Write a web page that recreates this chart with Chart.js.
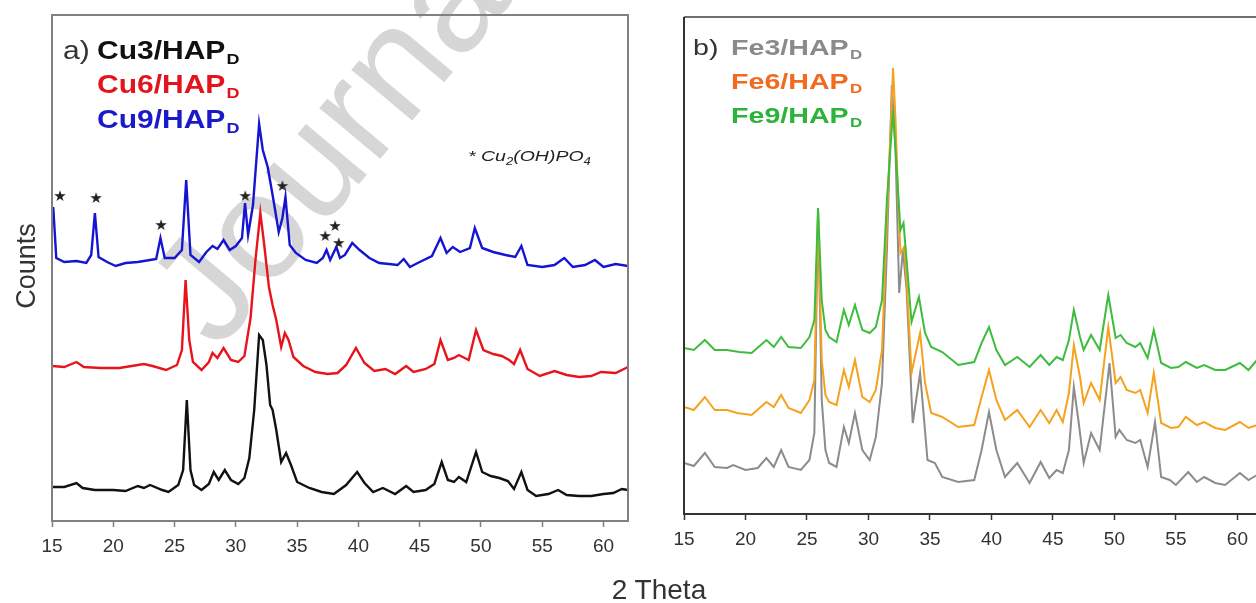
<!DOCTYPE html>
<html>
<head>
<meta charset="utf-8">
<script src="https://cdn.jsdelivr.net/npm/chart.js@4.4.1/dist/chart.umd.min.js"></script>
<style>
  html, body { margin: 0; padding: 0; background: #fff; overflow: hidden; width: 1256px; height: 603px; }
  #chartA { position: absolute; left: 0; top: 0; }
  #chartB { position: absolute; left: 640px; top: 0; }
  #xTitle { position: absolute; left: 559px; top: 576px; width: 200px; text-align: center;
            font: 28px 'Liberation Sans', Arial, sans-serif; line-height: 28px; color: #333; }
</style>
</head>
<body>
<canvas id="chartA" width="640" height="603"></canvas>
<canvas id="chartB" width="640" height="603"></canvas>
<div id="xTitle">2 Theta</div>
<script>
const FONT = "'Liberation Sans', Arial, sans-serif";

// panel a) Cu samples, 2 theta (deg) and counts (arbitrary, offset stacked)
const cu3Theta = [15,16,17,17.5,18.5,20,21,22,22.5,23,24,24.5,25.3,25.7,26,26.3,26.6,27.2,27.8,28.2,28.6,29.1,29.6,30.2,30.7,31.1,31.5,31.9,32.2,32.5,32.8,33,33.3,33.7,34.1,34.5,35,36,37,38,39,39.9,40.5,41.2,42,43,43.9,44.5,45.5,46.2,46.8,47.3,47.8,48.2,48.8,49.6,50.1,50.8,51.5,52.2,52.7,53.3,53.8,54.5,55.5,56.3,57,58,59,60,60.8,61.5,62];
const cu3Counts = [34,34,38,33,31,31,30,35,33,36,31,29,36,51,121,51,36,31,37,49,41,51,41,37,43,63,111,186,181,156,116,111,91,59,68,56,39,33,29,27,36,49,38,29,33,27,35,29,31,37,59,41,39,44,39,69,49,45,43,40,32,49,31,25,27,31,26,25,25,27,28,32,31];

const cu6Theta = [15,16,17,17.6,19,20.5,21.5,22.5,23.2,24.3,25.2,25.6,25.9,26.2,26.5,27.2,27.8,28.1,28.5,29,29.6,30.2,30.7,31.2,31.6,32,32.3,32.7,33,33.3,33.7,34,34.3,34.7,35.5,36.5,37.5,38.3,39,39.8,40.5,41.3,42.2,43,43.9,44.5,45.5,46.2,46.7,47.3,47.8,48.2,49,49.6,50.2,51,51.7,52.3,52.7,53.2,53.8,54.8,56,57,58,59,59.8,61,62];
const cu6Counts = [155,154,159,154,153,153,155,157,155,151,156,171,241,181,159,151,159,168,163,173,161,159,165,203,261,308,278,234,216,201,174,188,181,164,155,149,147,148,156,173,158,150,152,147,155,149,152,157,181,161,163,166,161,191,171,167,165,161,157,171,152,145,150,146,144,145,149,148,154];

const cu9Theta = [15,15.1,15.35,16,17,17.8,18.2,18.5,18.8,19.5,20.2,21,22,23,23.5,23.85,24.2,25,25.6,25.95,26.3,27,27.6,28.1,28.5,29,29.5,30,30.5,30.75,31,31.4,31.9,32.2,32.6,33,33.5,33.8,34.05,34.4,34.9,35.7,36.6,37.1,37.4,37.7,38.2,38.5,38.9,39.5,40.1,40.9,41.7,42.5,43.2,43.7,44.2,45,46,46.7,47.2,47.7,48.3,49.1,49.5,50.1,51,52,52.8,53.3,53.8,55,56,56.8,57.5,58.5,59.3,60,61,62];
const cu9Counts = [300,314,263,259,260,258,266,308,264,259,255,258,259,261,262,283,263,263,271,341,266,259,269,275,272,281,271,275,283,318,286,316,397,371,354,326,289,303,324,276,268,261,258,263,271,261,274,263,266,278,271,263,258,257,256,262,254,259,265,283,268,274,269,273,293,273,269,266,264,275,256,254,256,263,254,256,261,254,257,255];

// Cu2(OH)PO4 reflections marked with stars
const starTheta = [15.65,18.6,23.9,30.77,33.8,37.3,38.1,38.4];
const starCounts = [324,322,295,324,334,284,294,277];

// panel b) Fe samples
const fe3Theta = [15,15.8,16.7,17.5,18.5,19,20,21,21.7,22.3,22.9,23.5,24.5,25.2,25.6,25.9,26.2,26.5,26.8,27.4,28,28.4,28.9,29.5,30.1,30.6,31.1,31.5,31.9,32.2,32.5,32.8,33.1,33.6,34.2,34.8,35.4,36,37.3,38.6,39.2,39.8,40.4,41.1,42.1,43.1,44,44.7,45.3,45.8,46.3,46.7,47.1,47.5,48.1,48.8,49.6,50.1,50.4,51,51.7,52.1,52.7,53.3,53.8,54.5,55,56,56.7,57.3,58.2,59,60.2,60.9,61.6,62];
const fe3Counts = [51,48,61,47,46,49,44,46,56,47,64,47,44,54,81,302,114,64,51,47,87,71,101,64,54,77,131,264,429,364,221,264,224,91,141,54,51,37,32,34,64,102,64,37,51,31,52,36,44,41,64,127,91,51,81,64,151,77,84,74,71,74,47,92,37,34,29,42,32,37,31,29,41,34,39,37];

const fe6Theta = [15,15.8,16.7,17.5,18.5,19.3,20.5,21.7,22.3,22.9,23.5,24.5,25.2,25.6,25.9,26.2,26.5,26.8,27.4,28,28.4,28.9,29.5,30.1,30.6,31.1,31.5,32,32.2,32.4,32.6,32.9,33.1,33.5,34.2,34.6,35.1,36,37.3,38.6,39.2,39.8,40.4,41.1,42.1,43.1,44,44.7,45.3,45.8,46.3,46.7,47.2,47.5,48.1,48.8,49.5,50.1,50.5,51,51.7,52.1,52.7,53.2,53.8,54.6,55.2,55.8,56.7,57.3,58.2,59,60.2,60.9,61.6,62];
const fe6Counts = [107,104,117,104,104,101,99,112,107,119,106,101,114,134,302,154,119,112,109,144,127,154,117,112,124,164,294,446,394,321,261,267,234,141,181,131,101,97,87,89,117,144,114,94,104,87,104,91,104,92,121,169,137,111,131,114,187,131,137,124,121,124,101,141,91,86,87,97,89,92,86,84,92,86,89,88];

const fe9Theta = [15,15.8,16.7,17.5,18.5,19.5,20.5,21.7,22.3,22.9,23.5,24.5,25.2,25.6,25.9,26.2,26.5,26.8,27.4,28,28.4,28.9,29.5,30.1,30.6,31.1,31.5,32,32.3,32.6,32.85,33.1,33.5,34.1,34.6,35.1,36,37.3,38.6,39.2,39.8,40.4,41.1,42.1,43.1,44,44.7,45.3,45.8,46.3,46.7,47.2,47.5,48.1,48.8,49.5,50.1,50.5,51,51.7,52.1,52.7,53.2,53.8,54.6,55.2,55.8,56.7,57.3,58.2,59,60.2,60.9,61.6,62];
const fe9Counts = [166,164,174,164,164,162,161,174,167,177,167,166,177,194,306,214,184,177,172,204,189,209,184,181,187,214,314,404,344,284,291,254,192,217,181,167,162,149,152,171,187,164,149,157,147,159,149,157,154,174,204,177,164,179,164,219,176,179,171,167,171,156,184,151,146,147,152,146,149,144,144,151,144,154,152];

const xTicks = [15,20,25,30,35,40,45,50,55,60];

function pts(xs, ys) { return xs.map((x, i) => ({ x: x, y: ys[i] })); }

function lineSet(label, xs, ys, color, width, order) {
  return { label: label, data: pts(xs, ys), borderColor: color, borderWidth: width,
           pointRadius: 0, tension: 0, fill: false, order: order };
}

// small filled star used as point style
const starImg = document.createElement('canvas');
starImg.width = 16; starImg.height = 16;
const sctx = starImg.getContext('2d');
sctx.fillStyle = '#222';
sctx.font = "15px 'DejaVu Sans'";
sctx.textAlign = 'center';
sctx.textBaseline = 'middle';
sctx.fillText('\u2605', 8, 8.5);

function xScale(borderColor) {
  return {
    type: 'linear', min: 15, max: 62,
    afterBuildTicks: s => { s.ticks = xTicks.map(v => ({ value: v })); },
    afterFit: s => { s.height = 40; },
    ticks: { color: '#333', font: { family: FONT, size: 19 }, padding: 8, autoSkip: false, maxRotation: 0 },
    grid: { drawOnChartArea: false, tickLength: 6, tickColor: borderColor, tickWidth: 1.5 },
    border: { color: borderColor, width: 2 }
  };
}

// labels with subscript D
function drawLabel(ctx, x, y, main, color, size, sx) {
  ctx.save();
  ctx.translate(x, y);
  ctx.scale(sx, 1);
  ctx.fillStyle = color;
  ctx.textBaseline = 'alphabetic';
  ctx.font = 'bold ' + size + 'px ' + FONT;
  ctx.fillText(main, 0, 0);
  const w = ctx.measureText(main).width;
  ctx.font = 'bold ' + Math.round(size * 0.6) + 'px ' + FONT;
  ctx.fillText('D', w + 1, size * 0.2);
  ctx.restore();
}

const panelA = {
  id: 'panelA',
  beforeDatasetsDraw(chart) {
    const ctx = chart.ctx;
    // watermark
    ctx.save();
    ctx.translate(218, 352);
    ctx.rotate(-50 * Math.PI / 180);
    ctx.font = '150px ' + FONT;
    ctx.fillStyle = 'rgba(200,200,200,0.75)';
    ctx.fillText('Journal', 0, 0);
    ctx.restore();
  },
  afterDraw(chart) {
    const ctx = chart.ctx, a = chart.chartArea;
    ctx.save();
    ctx.strokeStyle = '#808080';
    ctx.lineWidth = 2;
    ctx.strokeRect(a.left, a.top, a.right - a.left, a.bottom - a.top);
    ctx.fillStyle = '#333';
    ctx.font = '25px ' + FONT;
    ctx.save(); ctx.translate(63, 59); ctx.scale(1.2, 1); ctx.fillText('a)', 0, 0); ctx.restore();
    drawLabel(ctx, 97, 59, 'Cu3/HAP', '#111', 25, 1.2);
    drawLabel(ctx, 97, 93, 'Cu6/HAP', '#e3141b', 25, 1.2);
    drawLabel(ctx, 97, 128, 'Cu9/HAP', '#1a1ac8', 25, 1.2);
    // note
    ctx.save();
    ctx.translate(468, 161);
    ctx.scale(1.3, 1);
    ctx.fillStyle = '#222';
    let x = 0;
    [['* Cu', 0, 15], ['2', 4, 10], ['(OH)PO', 0, 15], ['4', 4, 10]].forEach(p => {
      ctx.font = 'italic ' + p[2] + 'px ' + FONT;
      ctx.fillText(p[0], x, p[1]);
      x += ctx.measureText(p[0]).width;
    });
    ctx.restore();
    // y title
    ctx.save();
    ctx.translate(35, 266);
    ctx.rotate(-Math.PI / 2);
    ctx.textAlign = 'center';
    ctx.fillStyle = '#333';
    ctx.font = '27px ' + FONT;
    ctx.fillText('Counts', 0, 0);
    ctx.restore();
    ctx.restore();
  }
};

const panelB = {
  id: 'panelB',
  afterDraw(chart) {
    const ctx = chart.ctx, a = chart.chartArea;
    ctx.save();
    ctx.lineWidth = 2;
    ctx.strokeStyle = '#707070';
    ctx.beginPath(); ctx.moveTo(a.left, a.top); ctx.lineTo(a.right, a.top); ctx.stroke();
    ctx.strokeStyle = '#333';
    ctx.beginPath(); ctx.moveTo(a.left, a.top); ctx.lineTo(a.left, a.bottom); ctx.stroke();
    ctx.fillStyle = '#333';
    ctx.font = '22px ' + FONT;
    ctx.save(); ctx.translate(53, 55); ctx.scale(1.3, 1); ctx.fillText('b)', 0, 0); ctx.restore();
    drawLabel(ctx, 91, 55, 'Fe3/HAP', '#8a8a8a', 22, 1.3);
    drawLabel(ctx, 91, 89, 'Fe6/HAP', '#f06a20', 22, 1.3);
    drawLabel(ctx, 91, 123, 'Fe9/HAP', '#2bb33a', 22, 1.3);
    ctx.restore();
  }
};

new Chart(document.getElementById('chartA'), {
  type: 'line',
  data: {
    datasets: [
      lineSet('Cu3/HAPD', cu3Theta, cu3Counts, '#111111', 2.4, 3),
      lineSet('Cu6/HAPD', cu6Theta, cu6Counts, '#e8141c', 2.4, 1),
      lineSet('Cu9/HAPD', cu9Theta, cu9Counts, '#1414d2', 2.4, 2),
      { label: 'Cu2(OH)PO4', data: pts(starTheta, starCounts), showLine: false,
        pointStyle: starImg, pointRadius: 8, order: 0 }
    ]
  },
  options: {
    responsive: false,
    animation: false,
    layout: { padding: { left: 52, top: 15, right: 12, bottom: 42 } },
    scales: {
      x: xScale('#808080'),
      y: { display: false, min: 0, max: 506 }
    },
    plugins: { legend: { display: false }, tooltip: { enabled: false } }
  },
  plugins: [panelA]
});

new Chart(document.getElementById('chartB'), {
  type: 'line',
  data: {
    datasets: [
      lineSet('Fe3/HAPD', fe3Theta, fe3Counts, '#8c8c8c', 2, 2),
      lineSet('Fe6/HAPD', fe6Theta, fe6Counts, '#f5a21e', 2, 1),
      lineSet('Fe9/HAPD', fe9Theta, fe9Counts, '#3dbd3d', 2, 0)
    ]
  },
  options: {
    responsive: false,
    animation: false,
    layout: { padding: { left: 44, top: 17, right: 18, bottom: 49 } },
    scales: {
      x: xScale('#333333'),
      y: { display: false, min: 0, max: 497 }
    },
    plugins: { legend: { display: false }, tooltip: { enabled: false } }
  },
  plugins: [panelB]
});
</script>
</body>
</html>
